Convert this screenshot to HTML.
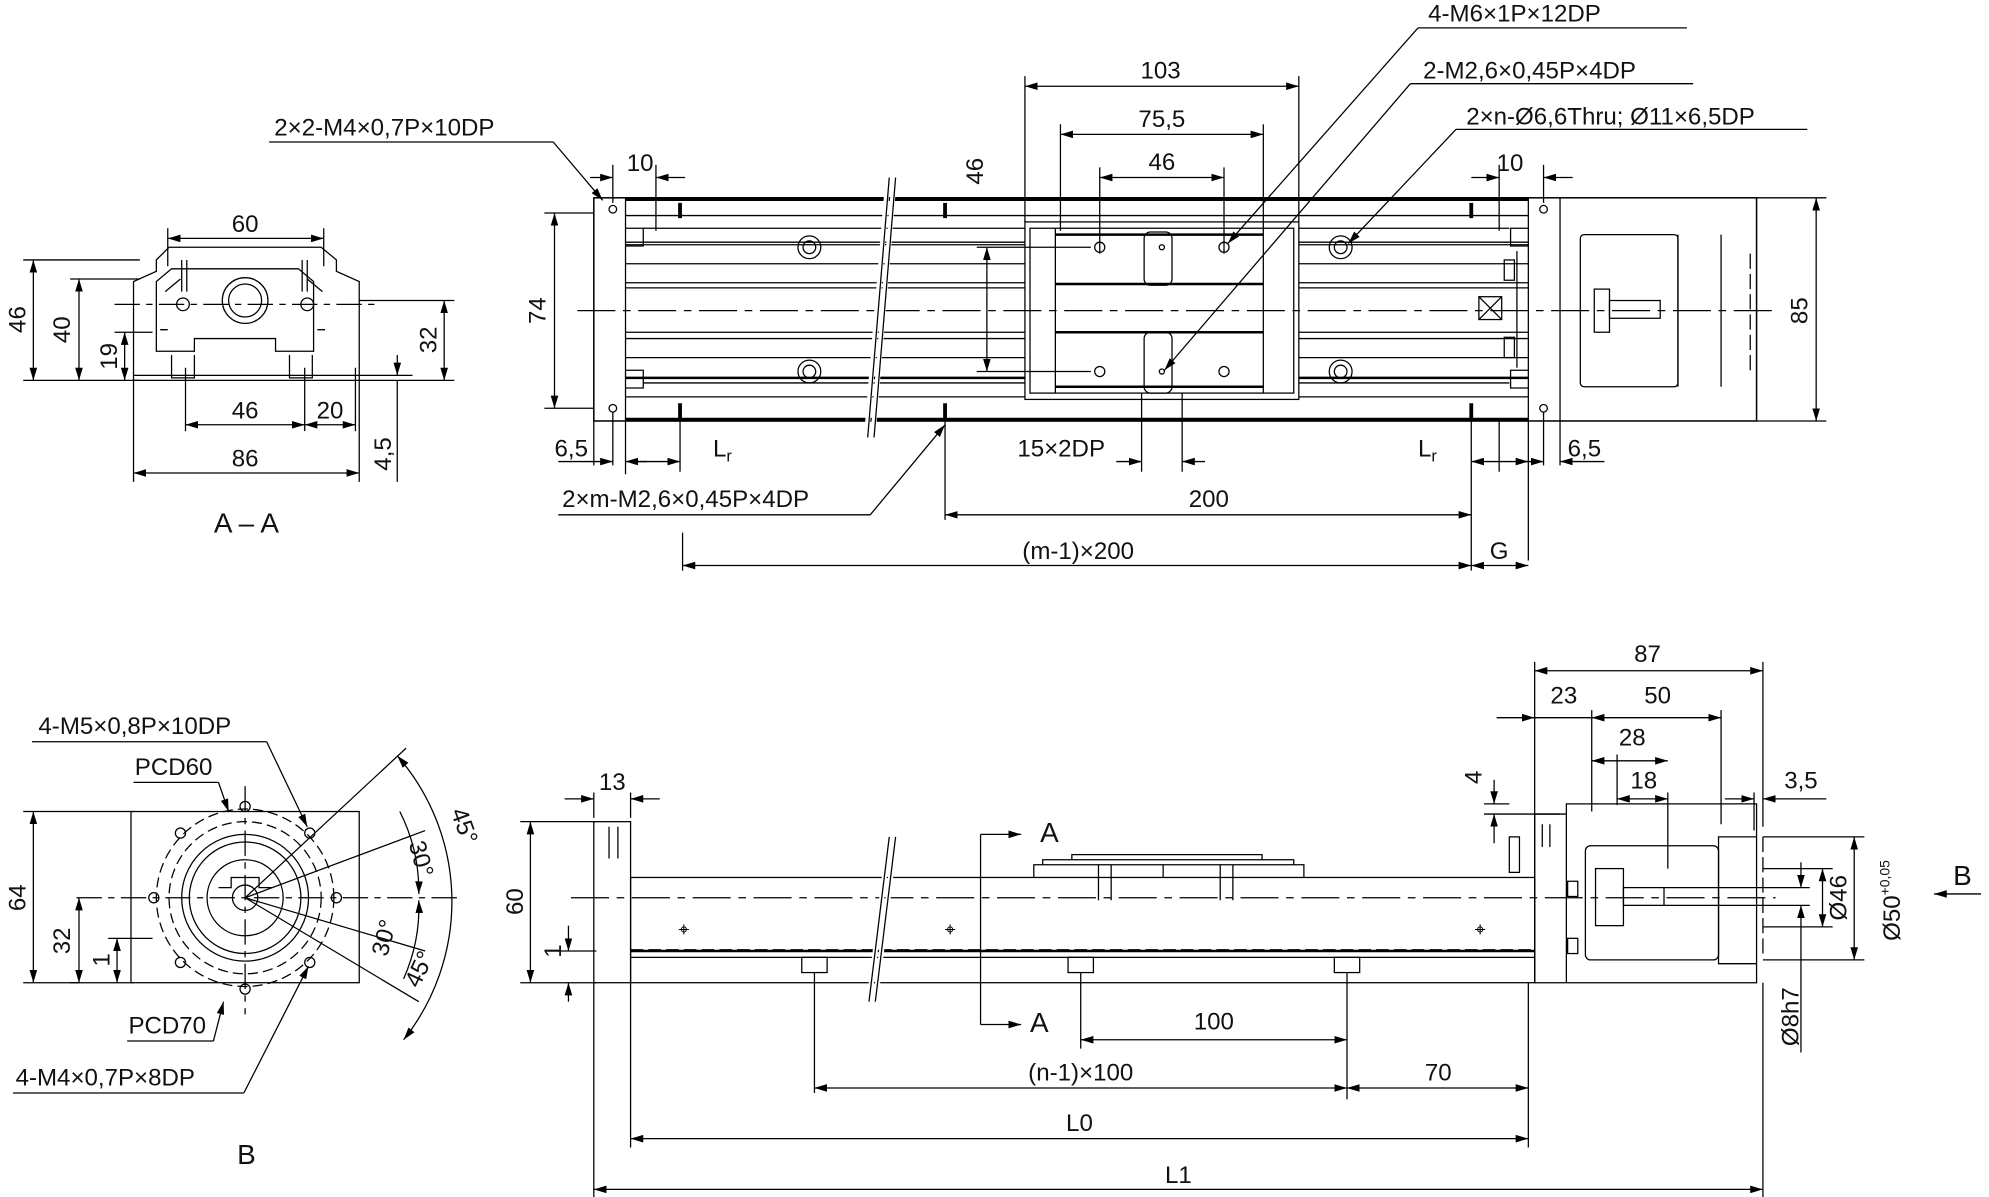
<!DOCTYPE html><html><head><style>html,body{margin:0;padding:0;background:#fff}svg{display:block}text{font-family:"Liberation Sans","DejaVu Sans",sans-serif;fill:#111}</style></head><body>
<svg width="1989" height="1197" viewBox="0 0 1568 944" xmlns="http://www.w3.org/2000/svg">
<defs><marker id="a" viewBox="0 0 10 6" refX="10" refY="3" markerWidth="10" markerHeight="6" orient="auto-start-reverse"><path d="M0,0L10,3L0,6z" fill="#000"/></marker></defs>
<g stroke="#000" fill="none" stroke-width="1">
<!-- TOP VIEW -->
<rect x="468" y="156" width="917" height="176" stroke-width="1.2"/>
<line x1="493" y1="156" x2="493" y2="332"/><line x1="1205" y1="156" x2="1205" y2="332"/><line x1="1230" y1="156" x2="1230" y2="332"/>
<line x1="493" y1="157" x2="1205" y2="157" stroke-width="3"/><line x1="493" y1="331" x2="1205" y2="331" stroke-width="3"/>
<line x1="493" y1="170" x2="1205" y2="170"/><line x1="493" y1="313" x2="1205" y2="313"/>
<line x1="493" y1="391" x2="1205" y2="391" transform="translate(0,-200)" />
<line x1="507" y1="180" x2="1190" y2="180"/><line x1="507" y1="302" x2="1190" y2="302"/>
<line x1="493" y1="298" x2="1205" y2="298" stroke-width="2"/>
<line x1="493" y1="208" x2="1205" y2="208"/><line x1="493" y1="223" x2="1205" y2="223"/>
<line x1="493" y1="267" x2="1205" y2="267"/><line x1="493" y1="282" x2="1205" y2="282"/>
<line x1="493" y1="193" x2="1205" y2="193"/><line x1="493" y1="227" x2="1205" y2="227"/><line x1="493" y1="262" x2="1205" y2="262"/>
<path d="M493,180h14v14h-14M1205,180h-14v14h14M493,292h14v14h-14M1205,292h-14v14h14"/>
<rect x="808" y="175" width="216" height="140" fill="#fff"/><rect x="812" y="180" width="208" height="130"/>
<line x1="832" y1="180" x2="832" y2="310"/><line x1="996" y1="180" x2="996" y2="310"/>
<line x1="832" y1="185" x2="996" y2="185" stroke-width="2"/><line x1="832" y1="224" x2="996" y2="224" stroke-width="2"/><line x1="832" y1="262" x2="996" y2="262" stroke-width="2"/><line x1="832" y1="305" x2="996" y2="305" stroke-width="2"/>
<rect x="902" y="183" width="22" height="42" rx="5"/><rect x="902" y="262" width="22" height="48" rx="5"/>
<rect x="1166" y="234" width="18" height="18"/><path d="M1166,234l18,18M1184,234l-18,18"/>
<rect x="1186" y="205" width="8" height="16"/><rect x="1186" y="266" width="8" height="16"/><line x1="1196" y1="198" x2="1196" y2="290"/>
<rect x="1246" y="185" width="77" height="120" rx="3"/><line x1="1323" y1="185" x2="1323" y2="305"/>
<rect x="1257" y="228" width="12" height="34"/><rect x="1269" y="237" width="40" height="14"/>
<line x1="1357" y1="185" x2="1357" y2="305"/>
<line x1="1380" y1="200" x2="1380" y2="295" stroke-dasharray="12 4"/>
<line x1="455" y1="245" x2="1400" y2="245" stroke-dasharray="30 6 6 6"/>
<g>
<circle cx="638" cy="195" r="9"/><circle cx="638" cy="195" r="5"/><circle cx="638" cy="293" r="9"/><circle cx="638" cy="293" r="5"/>
<circle cx="1057" cy="195" r="9"/><circle cx="1057" cy="195" r="5"/><circle cx="1057" cy="293" r="9"/><circle cx="1057" cy="293" r="5"/>
<circle cx="867" cy="195" r="4"/><circle cx="965" cy="195" r="4"/><circle cx="867" cy="293" r="4"/><circle cx="965" cy="293" r="4"/><circle cx="916" cy="195" r="2"/><circle cx="916" cy="293" r="2"/>
<circle cx="483" cy="165" r="3"/><circle cx="483" cy="322" r="3"/><circle cx="1217" cy="165" r="3"/><circle cx="1217" cy="322" r="3"/>
<path d="M536,160v12M745,160v12M1160,160v12M536,318v12M745,318v12M1160,318v12" stroke-width="3"/>
</g>
<path d="M705,140L688,345M700,140L683,345" stroke="#fff" stroke-width="4"/><path d="M706,140L689,345"/><path d="M701,140L684,345"/>
<!-- top dims -->
<line x1="808" y1="60" x2="808" y2="175"/><line x1="1024" y1="60" x2="1024" y2="175"/><line x1="808" y1="68" x2="1024" y2="68" marker-start="url(#a)" marker-end="url(#a)"/>
<line x1="836" y1="98" x2="836" y2="182"/><line x1="996" y1="98" x2="996" y2="182"/><line x1="836" y1="106" x2="996" y2="106" marker-start="url(#a)" marker-end="url(#a)"/>
<line x1="867" y1="132" x2="867" y2="200"/><line x1="965" y1="132" x2="965" y2="200"/><line x1="867" y1="140" x2="965" y2="140" marker-start="url(#a)" marker-end="url(#a)"/>
<line x1="770" y1="195" x2="860" y2="195"/><line x1="770" y1="293" x2="860" y2="293"/><line x1="778" y1="195" x2="778" y2="293" marker-start="url(#a)" marker-end="url(#a)"/>
<line x1="429" y1="168" x2="468" y2="168"/><line x1="429" y1="322" x2="468" y2="322"/><line x1="437" y1="168" x2="437" y2="322" marker-start="url(#a)" marker-end="url(#a)"/>
<line x1="1385" y1="156" x2="1440" y2="156"/><line x1="1385" y1="332" x2="1440" y2="332"/><line x1="1432" y1="156" x2="1432" y2="332" marker-start="url(#a)" marker-end="url(#a)"/>
<line x1="483" y1="130" x2="483" y2="160"/><line x1="517" y1="130" x2="517" y2="182"/><line x1="465" y1="140" x2="483" y2="140" marker-end="url(#a)"/><line x1="540" y1="140" x2="517" y2="140" marker-end="url(#a)"/>
<line x1="1182" y1="130" x2="1182" y2="182"/><line x1="1217" y1="130" x2="1217" y2="160"/><line x1="1160" y1="140" x2="1182" y2="140" marker-end="url(#a)"/><line x1="1240" y1="140" x2="1217" y2="140" marker-end="url(#a)"/>
<line x1="436" y1="112" x2="475" y2="158" marker-end="url(#a)"/><line x1="212" y1="112" x2="436" y2="112"/>
<line x1="1118" y1="22" x2="1330" y2="22"/><line x1="1118" y1="22" x2="968" y2="192" marker-end="url(#a)"/>
<line x1="1112" y1="66" x2="1335" y2="66"/><line x1="1112" y1="66" x2="918" y2="292" marker-end="url(#a)"/>
<line x1="1148" y1="102" x2="1425" y2="102"/><line x1="1148" y1="102" x2="1063" y2="192" marker-end="url(#a)"/>
<!-- bottom dims of top view -->
<path d="M468,332v35M483,325v42M493,332v42M536,330v42M745,330v80M900,310v62M932,310v62M1160,330v120M1182,330v42M1205,332v110M1217,325v42M1230,332v35M538,420v30"/>
<line x1="440" y1="364" x2="483" y2="364" marker-end="url(#a)"/><line x1="510" y1="364" x2="493" y2="364" marker-end="url(#a)"/><line x1="500" y1="364" x2="536" y2="364" marker-end="url(#a)"/>
<line x1="880" y1="364" x2="900" y2="364" marker-end="url(#a)"/><line x1="950" y1="364" x2="932" y2="364" marker-end="url(#a)"/>
<line x1="1160" y1="364" x2="1205" y2="364" marker-start="url(#a)" marker-end="url(#a)"/><line x1="1200" y1="364" x2="1217" y2="364" marker-end="url(#a)"/><line x1="1265" y1="364" x2="1230" y2="364" marker-end="url(#a)"/>
<line x1="745" y1="406" x2="1160" y2="406" marker-start="url(#a)" marker-end="url(#a)"/>
<line x1="538" y1="446" x2="1160" y2="446" marker-start="url(#a)" marker-end="url(#a)"/><line x1="1160" y1="446" x2="1205" y2="446" marker-start="url(#a)" marker-end="url(#a)"/>
<line x1="440" y1="406" x2="686" y2="406"/><line x1="686" y1="406" x2="745" y2="335" marker-end="url(#a)"/>
<!-- A-A -->
<path d="M105,300V222l18,-8V205l10,-10h120l12,10v9l18,8v78z"/>
<path d="M123,222v55h30v-10h64v10h30v-55l-12,-10h-100z"/>
<path d="M130,230l12,-10M254,230l-12,-10M126,260h6M250,260h6"/>
<circle cx="193" cy="237" r="18"/><circle cx="193" cy="237" r="13"/>
<circle cx="144" cy="240" r="5"/><circle cx="242" cy="240" r="5"/>
<path d="M143,205v25M147,205v25M238,205v25M242,205v25"/>
<path d="M135,280v18h18v-18M228,280v18h18v-18M105,296h178"/>
<line x1="90" y1="240" x2="296" y2="240" stroke-dasharray="20 5 5 5"/>
<line x1="132" y1="180" x2="132" y2="210"/><line x1="255" y1="180" x2="255" y2="210"/><line x1="132" y1="188" x2="255" y2="188" marker-start="url(#a)" marker-end="url(#a)"/>
<line x1="18" y1="205" x2="110" y2="205"/><line x1="18" y1="300" x2="110" y2="300"/><line x1="26" y1="205" x2="26" y2="300" marker-start="url(#a)" marker-end="url(#a)"/>
<line x1="55" y1="220" x2="110" y2="220"/><line x1="62" y1="220" x2="62" y2="300" marker-start="url(#a)" marker-end="url(#a)"/>
<line x1="90" y1="262" x2="120" y2="262"/><line x1="98" y1="262" x2="98" y2="300" marker-start="url(#a)" marker-end="url(#a)"/>
<line x1="283" y1="237" x2="358" y2="237"/><line x1="283" y1="300" x2="358" y2="300"/><line x1="350" y1="237" x2="350" y2="300" marker-start="url(#a)" marker-end="url(#a)"/>
<path d="M105,300v80M283,300v80M146,290v50M240,290v50M280,290v50M313,300v80"/>
<line x1="146" y1="335" x2="240" y2="335" marker-start="url(#a)" marker-end="url(#a)"/><line x1="240" y1="335" x2="280" y2="335" marker-start="url(#a)" marker-end="url(#a)"/>
<line x1="105" y1="373" x2="283" y2="373" marker-start="url(#a)" marker-end="url(#a)"/>
<line x1="283" y1="296" x2="325" y2="296"/><line x1="313" y1="280" x2="313" y2="296" marker-end="url(#a)"/>
<!-- B VIEW -->
<rect x="103" y="640" width="180" height="135"/>
<circle cx="193" cy="708" r="70" stroke-dasharray="8 4"/><circle cx="193" cy="708" r="60" stroke-dasharray="8 4"/>
<circle cx="193" cy="708" r="50"/><circle cx="193" cy="708" r="44"/><circle cx="193" cy="708" r="30"/><circle cx="193" cy="708" r="10"/>
<path d="M172,700h10v-8h22v8h10"/>
<circle cx="142" cy="657" r="4"/><circle cx="244" cy="657" r="4"/><circle cx="142" cy="759" r="4"/><circle cx="244" cy="759" r="4"/>
<circle cx="121" cy="708" r="4"/><circle cx="265" cy="708" r="4"/><circle cx="193" cy="636" r="4"/><circle cx="193" cy="780" r="4"/>
<line x1="60" y1="708" x2="360" y2="708" stroke-dasharray="20 5 5 5"/><line x1="193" y1="620" x2="193" y2="800" stroke-dasharray="20 5 5 5"/>
<path d="M193,708L320,590M193,708L330,790M193,708L335,655M193,708L335,750"/>
<path d="M313,596A175,175 0 0 1 318,820" marker-start="url(#a)" marker-end="url(#a)"/>
<path d="M315,640A140,140 0 0 1 330,705" marker-end="url(#a)"/><path d="M330,710A140,140 0 0 1 318,772" marker-start="url(#a)"/>
<line x1="18" y1="640" x2="105" y2="640"/><line x1="18" y1="775" x2="105" y2="775"/><line x1="26" y1="640" x2="26" y2="775" marker-start="url(#a)" marker-end="url(#a)"/>
<line x1="55" y1="775" x2="62" y2="775"/><line x1="62" y1="708" x2="62" y2="775" marker-start="url(#a)" marker-end="url(#a)"/>
<line x1="85" y1="740" x2="120" y2="740"/><line x1="92" y1="740" x2="92" y2="775" marker-start="url(#a)" marker-end="url(#a)"/>
<line x1="25" y1="585" x2="210" y2="585"/><line x1="210" y1="585" x2="242" y2="652" marker-end="url(#a)"/>
<line x1="105" y1="617" x2="172" y2="617"/><line x1="172" y1="617" x2="180" y2="640" marker-end="url(#a)"/>
<line x1="100" y1="821" x2="168" y2="821"/><line x1="168" y1="821" x2="176" y2="790" marker-end="url(#a)"/>
<line x1="10" y1="862" x2="192" y2="862"/><line x1="192" y1="862" x2="243" y2="762" marker-end="url(#a)"/>
<!-- SIDE VIEW -->
<rect x="468" y="648" width="29" height="127"/>
<rect x="497" y="692" width="713" height="83"/>
<line x1="497" y1="750" x2="1210" y2="750" stroke-width="2"/><line x1="497" y1="755" x2="1210" y2="755"/>
<line x1="497" y1="749" x2="1210" y2="749" stroke-dasharray="10 4"/>
<path d="M815,692v-10h213v10M822,682v-4h198v4M845,678v-4h150v4"/>
<path d="M866,682v28M876,682v28M962,682v28M972,682v28M917,682v10" />
<path d="M480,652v25M487,652v25"/>
<rect x="632" y="755" width="20" height="12"/><rect x="842" y="755" width="20" height="12"/><rect x="1052" y="755" width="20" height="12"/>
<path d="M1210,642h25v-8h150v141h-175z"/><line x1="1210" y1="642" x2="1210" y2="775"/>
<path d="M1235,642v133M1385,660h-30v100h30"/>
<rect x="1250" y="667" width="105" height="90" rx="4"/>
<rect x="1258" y="685" width="22" height="45"/><rect x="1280" y="700" width="32" height="14"/>
<rect x="1236" y="695" width="8" height="12"/><rect x="1236" y="740" width="8" height="12"/><rect x="1190" y="660" width="8" height="28"/>
<path d="M1216,650v18M1222,650v18"/>
<line x1="450" y1="708" x2="1400" y2="708" stroke-dasharray="30 6 6 6"/>
<path d="M706,660L690,790M701,660L685,790" stroke="#fff" stroke-width="4"/><path d="M706,660L690,790M701,660L685,790"/>
<line x1="1390" y1="660" x2="1390" y2="755" stroke-dasharray="12 4"/>
<g stroke-width="0.8"><path d="M535,733h8M539,729v8M745,733h8M749,729v8M1163,733h8M1167,729v8"/><circle cx="539" cy="733" r="2"/><circle cx="749" cy="733" r="2"/><circle cx="1167" cy="733" r="2"/></g>
<!-- side dims -->
<line x1="410" y1="648" x2="470" y2="648"/><line x1="410" y1="775" x2="470" y2="775"/><line x1="418" y1="648" x2="418" y2="775" marker-start="url(#a)" marker-end="url(#a)"/>
<line x1="440" y1="750" x2="470" y2="750"/><line x1="448" y1="730" x2="448" y2="750" marker-end="url(#a)"/><line x1="448" y1="790" x2="448" y2="775" marker-end="url(#a)"/>
<path d="M468,625v20M497,625v20"/><line x1="445" y1="630" x2="468" y2="630" marker-end="url(#a)"/><line x1="520" y1="630" x2="497" y2="630" marker-end="url(#a)"/>
<path d="M468,775v170M497,775v130M642,767v95M852,767v60M1062,767v100M1205,775v130M1390,775v170"/>
<line x1="852" y1="820" x2="1062" y2="820" marker-start="url(#a)" marker-end="url(#a)"/>
<line x1="642" y1="858" x2="1062" y2="858" marker-start="url(#a)" marker-end="url(#a)"/><line x1="1062" y1="858" x2="1205" y2="858" marker-start="url(#a)" marker-end="url(#a)"/>
<line x1="497" y1="898" x2="1205" y2="898" marker-start="url(#a)" marker-end="url(#a)"/>
<line x1="468" y1="938" x2="1390" y2="938" marker-start="url(#a)" marker-end="url(#a)"/>
<path d="M1210,522v120M1255,560v80M1275,595v40M1315,625v60M1357,560v90M1390,522v130M1383,625v30"/>
<line x1="1210" y1="529" x2="1390" y2="529" marker-start="url(#a)" marker-end="url(#a)"/>
<line x1="1180" y1="566" x2="1210" y2="566" marker-end="url(#a)"/><line x1="1210" y1="566" x2="1255" y2="566"/><line x1="1255" y1="566" x2="1357" y2="566" marker-start="url(#a)" marker-end="url(#a)"/>
<line x1="1255" y1="600" x2="1315" y2="600" marker-start="url(#a)" marker-end="url(#a)"/>
<line x1="1275" y1="630" x2="1315" y2="630" marker-start="url(#a)" marker-end="url(#a)"/>
<line x1="1360" y1="630" x2="1383" y2="630" marker-end="url(#a)"/><line x1="1440" y1="630" x2="1390" y2="630" marker-end="url(#a)"/>
<path d="M1170,642h60M1170,634h20"/><line x1="1178" y1="615" x2="1178" y2="634" marker-end="url(#a)"/><line x1="1178" y1="665" x2="1178" y2="642" marker-end="url(#a)"/>
<path d="M1390,660h80M1390,757h80M1390,685h55M1390,731h55M1312,700h115M1312,714h115"/>
<line x1="1462" y1="660" x2="1462" y2="757" marker-start="url(#a)" marker-end="url(#a)"/>
<line x1="1437" y1="685" x2="1437" y2="731" marker-start="url(#a)" marker-end="url(#a)"/>
<line x1="1420" y1="680" x2="1420" y2="700" marker-end="url(#a)"/><line x1="1420" y1="830" x2="1420" y2="714" marker-end="url(#a)"/>
<line x1="1562" y1="705" x2="1525" y2="705" marker-end="url(#a)"/>
<line x1="773" y1="658" x2="773" y2="808"/><line x1="773" y1="658" x2="805" y2="658" marker-end="url(#a)"/><line x1="773" y1="808" x2="805" y2="808" marker-end="url(#a)"/>
</g>
<g font-size="19">
<text x="915" y="62" text-anchor="middle">103</text><text x="916" y="100" text-anchor="middle">75,5</text><text x="916" y="134" text-anchor="middle">46</text>
<text x="1126" y="17">4-M6×1P×12DP</text><text x="1122" y="62">2-M2,6×0,45P×4DP</text><text x="1156" y="98">2×n-Ø6,6Thru; Ø11×6,5DP</text>
<text x="216" y="107">2×2-M4×0,7P×10DP</text>
<text x="494" y="135">10</text><text x="1180" y="135">10</text>
<text x="775" y="135" transform="rotate(-90 775 135)" text-anchor="middle">46</text>
<text x="430" y="245" transform="rotate(-90 430 245)" text-anchor="middle">74</text>
<text x="1425" y="245" transform="rotate(-90 1425 245)" text-anchor="middle">85</text>
<text x="437" y="360">6,5</text><text x="562" y="360">L<tspan font-size="13" dy="4">r</tspan></text>
<text x="802" y="360">15×2DP</text><text x="1118" y="360">L<tspan font-size="13" dy="4">r</tspan></text><text x="1236" y="360">6,5</text>
<text x="443" y="400">2×m-M2,6×0,45P×4DP</text><text x="953" y="400" text-anchor="middle">200</text>
<text x="850" y="441" text-anchor="middle">(m-1)×200</text><text x="1182" y="441" text-anchor="middle">G</text>
<text x="193" y="183" text-anchor="middle">60</text>
<text x="20" y="252" transform="rotate(-90 20 252)" text-anchor="middle">46</text>
<text x="55" y="260" transform="rotate(-90 55 260)" text-anchor="middle">40</text>
<text x="92" y="281" transform="rotate(-90 92 281)" text-anchor="middle">19</text>
<text x="344" y="268" transform="rotate(-90 344 268)" text-anchor="middle">32</text>
<text x="193" y="330" text-anchor="middle">46</text><text x="260" y="330" text-anchor="middle">20</text>
<text x="193" y="368" text-anchor="middle">86</text>
<text x="308" y="358" transform="rotate(-90 308 358)" text-anchor="middle">4,5</text>
<text x="194" y="420" text-anchor="middle" font-size="22">A – A</text>
<text x="30" y="579">4-M5×0,8P×10DP</text><text x="106" y="611">PCD60</text><text x="101" y="815">PCD70</text><text x="12" y="856">4-M4×0,7P×8DP</text>
<text x="20" y="708" transform="rotate(-90 20 708)" text-anchor="middle">64</text>
<text x="55" y="742" transform="rotate(-90 55 742)" text-anchor="middle">32</text>
<text x="86" y="757" transform="rotate(-90 86 757)" text-anchor="middle">1</text>
<text x="355" y="640" transform="rotate(70 355 640)">45°</text><text x="322" y="665" transform="rotate(75 322 665)">30°</text>
<text x="305" y="755" transform="rotate(-75 305 755)">30°</text><text x="330" y="780" transform="rotate(-65 330 780)">45°</text>
<text x="194" y="918" text-anchor="middle" font-size="22">B</text>
<text x="472" y="623">13</text>
<text x="412" y="711" transform="rotate(-90 412 711)" text-anchor="middle">60</text>
<text x="442" y="750" transform="rotate(-90 442 750)" text-anchor="middle">1</text>
<text x="820" y="664" font-size="22">A</text><text x="812" y="814" font-size="22">A</text>
<text x="957" y="812" text-anchor="middle">100</text><text x="852" y="852" text-anchor="middle">(n-1)×100</text><text x="1134" y="852" text-anchor="middle">70</text>
<text x="851" y="892" text-anchor="middle">L0</text><text x="929" y="933" text-anchor="middle">L1</text>
<text x="1299" y="522" text-anchor="middle">87</text><text x="1233" y="555" text-anchor="middle">23</text><text x="1307" y="555" text-anchor="middle">50</text>
<text x="1287" y="588" text-anchor="middle">28</text><text x="1296" y="622" text-anchor="middle">18</text><text x="1420" y="622" text-anchor="middle">3,5</text>
<text x="1168" y="613" transform="rotate(-90 1168 613)" text-anchor="middle">4</text>
<text x="1456" y="708" transform="rotate(-90 1456 708)" text-anchor="middle">Ø46</text>
<text x="1498" y="742" transform="rotate(-90 1498 742)">Ø50<tspan font-size="11" dy="-8">+0,05</tspan></text>
<text x="1418" y="825" transform="rotate(-90 1418 825)">Ø8h7</text>
<text x="1540" y="698" font-size="22">B</text>
</g>
</svg></body></html>
